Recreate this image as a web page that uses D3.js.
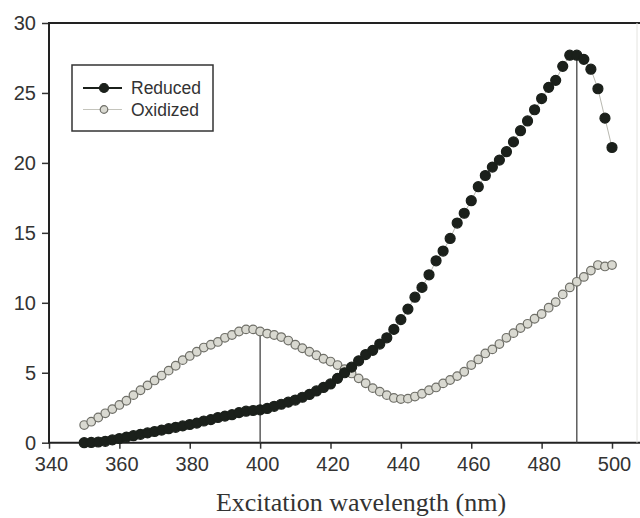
<!DOCTYPE html>
<html>
<head>
<meta charset="utf-8">
<script src="https://cdn.jsdelivr.net/npm/d3@7"></script>
<style>
	body { margin: 0; background: #fff; }
	svg { display: block; }
</style>
</head>
<body>
<script>
// excitation wavelengths (nm), one reading every 2 nm
const wavelengths = [350,352,354,356,358,360,362,364,366,368,370,372,374,376,378,380,382,384,386,388,
	390,392,394,396,398,400,402,404,406,408,410,412,414,416,418,420,422,424,426,428,
	430,432,434,436,438,440,442,444,446,448,450,452,454,456,458,460,462,464,466,468,
	470,472,474,476,478,480,482,484,486,488,490,492,494,496,498,500];

const reduced = [0.0,0.02,0.05,0.1,0.2,0.3,0.4,0.5,0.6,0.7,0.8,0.9,1.0,1.1,1.2,1.3,1.4,1.55,1.65,1.8,
	1.9,2.0,2.15,2.25,2.3,2.35,2.45,2.6,2.75,2.9,3.05,3.25,3.45,3.7,3.95,4.2,4.6,5.0,5.4,5.85,
	6.3,6.6,7.05,7.5,8.1,8.8,9.55,10.4,11.1,12.0,13.0,13.7,14.6,15.7,16.4,17.3,18.3,19.1,19.7,20.2,
	20.8,21.5,22.3,23.0,23.8,24.6,25.4,25.9,26.9,27.7,27.7,27.4,26.7,25.3,23.2,21.1];

const oxidized = [1.26,1.5,1.8,2.1,2.4,2.7,3.0,3.4,3.75,4.1,4.45,4.8,5.15,5.5,5.9,6.2,6.5,6.8,7.0,7.2,
	7.5,7.7,7.95,8.1,8.1,7.95,7.8,7.7,7.55,7.3,7.0,6.75,6.5,6.25,6.0,5.8,5.55,5.25,4.95,4.6,
	4.25,3.9,3.65,3.4,3.2,3.12,3.15,3.3,3.5,3.75,3.95,4.24,4.48,4.76,5.07,5.55,5.95,6.38,6.67,7.05,
	7.5,7.83,8.2,8.5,8.86,9.2,9.65,10.05,10.6,11.1,11.5,11.85,12.3,12.7,12.6,12.7];

const xTicks = [340,360,380,400,420,440,460,480,500];
const yTicks = [0,5,10,15,20,25,30];

// peak markers: wavelength + which series the drop line reaches
const peaks = [
	{nm: 400, series: "Oxidized"},
	{nm: 490, series: "Reduced"}
];

const width = 640;
const height = 518;
const margin = {top: 23, right: 28, bottom: 75, left: 49};

const series = [
	{name: "Reduced", values: reduced, fill: "#1b201b", stroke: "#1b201b", r: 5, line: "#b8b8b0"},
	{name: "Oxidized", values: oxidized, fill: "#d9d9d1", stroke: "#6f6f68", r: 4.3, line: "#b8b8b0"}
];

const data = series.map(s => ({
	name: s.name, style: s,
	points: wavelengths.map((w, i) => ({nm: w, v: s.values[i]}))
}));

let svg = d3.select('body')
	.append('svg')
	.attr("width", width)
	.attr("height", height)
	.attr("viewBox", [0, 0, width, height]);

//x + y scales
const x = d3.scaleLinear()
	.domain([340, 500])
	.range([margin.left, width - margin.right]);

const y = d3.scaleLinear()
	.domain([0, 30])
	.range([height - margin.bottom - 0.3, margin.top]);

//axes
const xAxis = d3.axisBottom(x)
	.tickValues(xTicks)
	.tickSize(6)
	.tickPadding(8);

const yAxis = d3.axisLeft(y)
	.tickValues(yTicks)
	.tickSize(7)
	.tickPadding(6);

let xAxisGroup = svg.append("g")
	.attr("transform", `translate(0,${y(0)})`)
	.call(xAxis)
	.call(g => g.select(".domain").remove());
xAxisGroup.selectAll(".tick line").attr("stroke", "#333").attr("stroke-width", 1.5);
xAxisGroup.selectAll(".tick text")
	.attr("dx", 2)
	.attr("fill", "#333")
	.attr("font-family", "Liberation Sans, Arial, sans-serif")
	.attr("font-size", 20);

let yAxisGroup = svg.append("g")
	.attr("transform", `translate(${x(340)},0)`)
	.call(yAxis)
	.call(g => g.select(".domain").remove());
yAxisGroup.selectAll(".tick line").attr("stroke", "#333").attr("stroke-width", 1.5);
yAxisGroup.selectAll(".tick text")
	.attr("fill", "#333")
	.attr("font-family", "Liberation Sans, Arial, sans-serif")
	.attr("font-size", 20);

//frame: left, bottom, top (the right edge is cut off)
svg.append("path")
	.attr("fill", "none")
	.attr("stroke", "#222")
	.attr("stroke-width", 2)
	.attr("d", `M${width},${y(30)}H${x(340)}V${y(0)}H${width}`);
svg.append("line")
	.attr("x1", width - 3).attr("x2", width - 3)
	.attr("y1", y(30)).attr("y2", y(0))
	.attr("stroke", "#e4e4e0")
	.attr("stroke-width", 1);

//drop lines at the peaks
svg.append("g")
	.attr("stroke", "#444")
	.attr("stroke-width", 1.3)
	.selectAll("line")
	.data(peaks)
	.join("line")
		.attr("x1", d => x(d.nm))
		.attr("x2", d => x(d.nm))
		.attr("y1", y(0))
		.attr("y2", d => {
			const s = data.find(s => s.name === d.series);
			return y(s.points.find(p => p.nm === d.nm).v);
		});

//series: thin connecting line + markers
let line = d3.line()
	.x(d => x(d.nm))
	.y(d => y(d.v));

const seriesGroup = svg.append("g")
	.selectAll("g")
	.data(data.slice().reverse())
	.join("g");

seriesGroup.append("path")
	.attr("fill", "none")
	.attr("stroke", d => d.style.line)
	.attr("stroke-width", 1)
	.attr("d", d => line(d.points));

seriesGroup.selectAll("circle")
	.data(d => d.points.map(p => ({...p, style: d.style})))
	.join("circle")
		.attr("cx", d => x(d.nm))
		.attr("cy", d => y(d.v))
		.attr("r", d => d.style.r)
		.attr("fill", d => d.style.fill)
		.attr("stroke", d => d.style.stroke)
		.attr("stroke-width", 1.2);

//legend
const legend = svg.append("g")
	.attr("transform", "translate(72,65)");

legend.append("rect")
	.attr("width", 141)
	.attr("height", 66)
	.attr("fill", "#fff")
	.attr("stroke", "#333")
	.attr("stroke-width", 1.5);

const item = legend.selectAll("g")
	.data(series)
	.join("g")
		.attr("transform", (d, i) => `translate(0,${23 + i * 21.5})`);

item.append("line")
	.attr("x1", 11).attr("x2", 50)
	.attr("stroke", (d, i) => i === 0 ? "#1b201b" : "#c4c4bc")
	.attr("stroke-width", (d, i) => i === 0 ? 2.2 : 1);

item.append("circle")
	.attr("cx", 32)
	.attr("r", d => d.r - 0.5)
	.attr("fill", d => d.fill)
	.attr("stroke", d => d.stroke)
	.attr("stroke-width", 1.2);

item.append("text")
	.attr("x", 59)
	.attr("dy", "0.35em")
	.attr("fill", "#333")
	.attr("font-family", "Liberation Sans, Arial, sans-serif")
	.attr("font-size", 17.5)
	.text(d => d.name);

//axis title
svg.append("text")
	.attr("x", 361)
	.attr("y", 511)
	.attr("text-anchor", "middle")
	.attr("fill", "#333")
	.attr("font-family", "Liberation Serif, Times New Roman, serif")
	.attr("font-size", 26)
	.text("Excitation wavelength (nm)");
</script>
</body>
</html>
